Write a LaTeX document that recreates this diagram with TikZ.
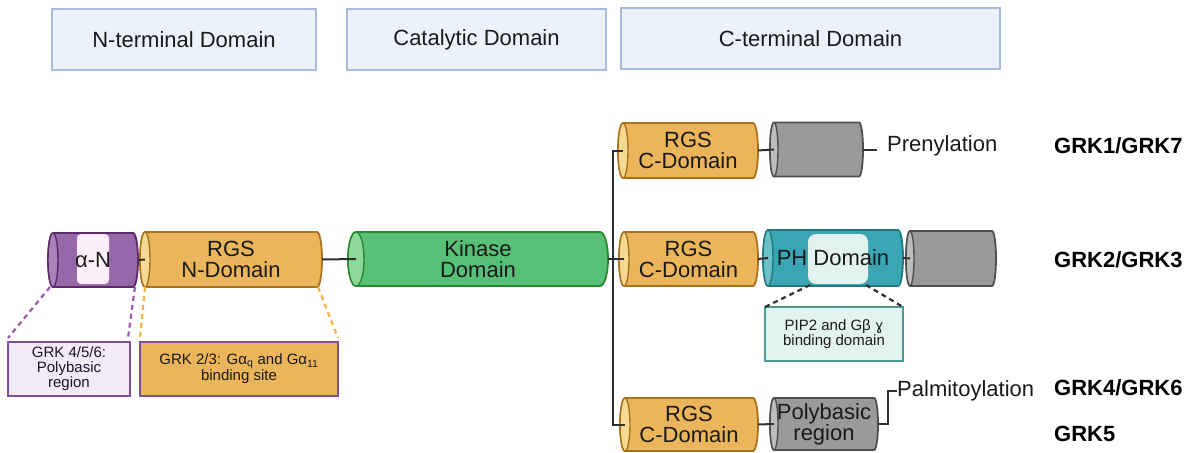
\documentclass[tikz,border=0pt]{standalone}
\usepackage{fontspec}
\setmainfont{Liberation Sans}
\newfontfamily\dejavu{DejaVu Sans}
\usetikzlibrary{calc,backgrounds}
\definecolor{txt}{HTML}{1A1A1A}
\definecolor{lineC}{HTML}{2E2E2E}
\definecolor{hdrF}{HTML}{EBF2FB}
\definecolor{hdrB}{HTML}{A7BCDF}
\definecolor{purF}{HTML}{9767A9}
\definecolor{purD}{HTML}{5C2A6B}
\definecolor{purC}{HTML}{A983B8}
\definecolor{pinkH}{HTML}{FCEEF6}
\definecolor{oraF}{HTML}{EBB55C}
\definecolor{oraD}{HTML}{A8731C}
\definecolor{oraC}{HTML}{F6DA93}
\definecolor{grnF}{HTML}{58BF77}
\definecolor{grnD}{HTML}{2A882E}
\definecolor{grnC}{HTML}{8FD89B}
\definecolor{tealF}{HTML}{3BA5B3}
\definecolor{tealD}{HTML}{1F7A80}
\definecolor{tealC}{HTML}{6CC0C8}
\definecolor{tealH}{HTML}{E1F2EF}
\definecolor{gryF}{HTML}{9A9A9A}
\definecolor{gryD}{HTML}{4F4F4F}
\definecolor{gryC}{HTML}{BDBDBD}
\definecolor{lavF}{HTML}{F1EAF9}
\definecolor{boxP}{HTML}{7D4F9E}
\definecolor{pipF}{HTML}{E3F3F0}
\definecolor{pipD}{HTML}{4D9A98}
\definecolor{dashP}{HTML}{9A5BA8}
\definecolor{dashO}{HTML}{F0B445}
\newcommand\cylshape[5]{%
  \path[fill=#2,draw=#3,line width=1.8pt] let \p1=(#1.north west), \p2=(#1.south east), \n1={(\y1-\y2)/2} in
    (\x1+#5pt,\y1) -- (\x2-#5pt,\y1) arc[start angle=90,end angle=-90,x radius=#5pt,y radius=\n1]
    -- (\x1+#5pt,\y2) arc[start angle=270,end angle=90,x radius=#5pt,y radius=\n1] -- cycle;
  \path[fill=#4,draw=#3,line width=1.4pt] let \p1=(#1.north west), \p2=(#1.south east), \n1={(\y1-\y2)/2} in
    (\x1+#5pt,{(\y1+\y2)/2}) ellipse[x radius=#5pt,y radius=\n1];
}
\tikzset{
  cyltext/.style={inner sep=0pt, outer sep=0pt, align=center, text=txt, font=\fontsize{22}{21}\selectfont},
  hdr/.style={draw=hdrB, fill=hdrF, line width=2pt, inner sep=0pt, outer sep=0pt, text=txt, font=\fontsize{22}{26}\selectfont},
  lbl/.style={inner sep=0pt, anchor=base west, text=black, font=\bfseries\fontsize{22}{26}\selectfont},
  side/.style={inner sep=0pt, text=txt, font=\fontsize{22}{26}\selectfont},
  sbox/.style={line width=1.8pt, inner sep=0pt, outer sep=0pt, align=center, text=txt, font=\fontsize{15}{15}\selectfont},
  conn/.style={draw=lineC, line width=2pt},
  dsh/.style={line width=2.2pt, dash pattern=on 5pt off 4pt}
}
\begin{document}
\begin{tikzpicture}[x=1pt,y=1pt]
\useasboundingbox (0,0) rectangle (1190,-452);
% headers
\node[hdr, minimum width=264, minimum height=61] (hN) at (184,-39.5) {N-terminal Domain};
\node[hdr, minimum width=259, minimum height=61] (hC) at (476.5,-39.5) {Catalytic Domain};
\node[hdr, minimum width=379, minimum height=60] (hT) at (810.5,-38.5) {C-terminal Domain};
% cylinders (text nodes)
\node[cyltext, minimum width=90, minimum height=54] (aN) at (93,-260) {α-N};
\node[cyltext, minimum width=182, minimum height=55] (rgsN) at (231,-259.5) {RGS\\N-Domain};
\node[cyltext, minimum width=260, minimum height=54] (kin) at (478,-259) {Kinase\\Domain};
\node[cyltext, minimum width=140, minimum height=55] (c1) at (688,-150.5) {RGS\\C-Domain};
\node[cyltext, minimum width=93, minimum height=54] (g1) at (816.5,-149.5) {};
\node[cyltext, minimum width=139, minimum height=54] (c2) at (688.5,-259) {RGS\\C-Domain};
\node[cyltext, minimum width=140, minimum height=56] (ph) at (833,-258) {PH Domain};
\node[cyltext, minimum width=90, minimum height=55] (g2) at (951,-258.5) {};
\node[cyltext, minimum width=138, minimum height=53] (c3) at (689,-424.5) {RGS\\C-Domain};
\node[cyltext, minimum width=108, minimum height=52] (pb) at (824,-424) {Polybasic\\region};
\begin{scope}[on background layer]
  \cylshape{aN}{purF}{purD}{purC}{5}
  \cylshape{rgsN}{oraF}{oraD}{oraC}{5}
  \cylshape{kin}{grnF}{grnD}{grnC}{8}
  \cylshape{c1}{oraF}{oraD}{oraC}{5}
  \cylshape{g1}{gryF}{gryD}{gryC}{4}
  \cylshape{c2}{oraF}{oraD}{oraC}{5}
  \cylshape{ph}{tealF}{tealD}{tealC}{5}
  \cylshape{g2}{gryF}{gryD}{gryC}{4}
  \cylshape{c3}{oraF}{oraD}{oraC}{5}
  \cylshape{pb}{gryF}{gryD}{gryC}{4}
  \fill[pinkH, rounded corners=4pt] ($(aN.north)+(-16,-1)$) rectangle ($(aN.south)+(16,3)$);
  \fill[tealH, rounded corners=8pt] ($(ph.north)+(-25,-4)$) rectangle ($(ph.south)+(35,2)$);
\end{scope}
% side labels
\node[side, anchor=west, inner xsep=10pt] (pren) at (877,-146) {Prenylation};
\node[side, anchor=west, inner xsep=0pt] (palm) at (897,-391) {Palmitoylation};
% GRK labels
\node[lbl] (k17) at (1054,-153) {GRK1/GRK7};
\node[lbl] (k23) at (1054,-267) {GRK2/GRK3};
\node[lbl] (k46) at (1054,-395) {GRK4/GRK6};
\node[lbl] (k5) at (1054,-441) {GRK5};
% boxes
\node[sbox, draw=boxP, fill=lavF, minimum width=122, minimum height=54] (b1) at (69,-369) {GRK 4/5/6:\\Polybasic\\region};
\node[sbox, draw=boxP, fill=oraF, minimum width=198, minimum height=54] (b2) at (239,-369) {GRK 2/3: Gα\textsubscript{q} and Gα\textsubscript{11}\\binding site};
\node[sbox, draw=pipD, fill=pipF, minimum width=138, minimum height=54] (pip) at (834,-334) {PIP2 and Gβ {\dejavu\fontsize{14}{15}\selectfont ɣ}\\binding domain};
% connectors
\coordinate (vt) at (613,-150.5);
\coordinate (vb) at (613,-424.5);
\draw[conn] (aN.east) -- ($(rgsN.west)+(5,0)$);
\draw[conn] (rgsN.east) -- ($(kin.west)+(8,0)$);
\draw[conn] (kin.east) -- ($(c2.west)+(5,0)$);
\draw[conn] ($(c1.west)+(5,0)$) -- (vt) -- (vb) -- ($(c3.west)+(5,0)$);
\draw[conn] (c1.east) -- ($(g1.west)+(4,0)$);
\draw[conn] (g1.east) -- (g1.east -| pren.west);
\draw[conn] (c2.east) -- ($(ph.west)+(5,0)$);
\draw[conn] (ph.east) -- ($(g2.west)+(4,0)$);
\draw[conn] (c3.east) -- ($(pb.west)+(4,0)$);
\draw[conn] (pb.east) -- ++(10,0) |- (palm.west);
% dashed
\draw[dsh, dashP] ($(aN.south west)+(2,0)$) -- ($(b1.north west)+(0,4)$);
\draw[dsh, dashP] ($(aN.south east)+(-3,0)$) -- ($(b1.north east)+(-2,4)$);
\draw[dsh, dashO] ($(rgsN.south west)+(5,0)$) -- ($(b2.north west)+(0,4)$);
\draw[dsh, dashO] ($(rgsN.south east)+(-4,0)$) -- ($(b2.north east)+(0,4)$);
\draw[dsh, lineC] ($(ph.south)+(-23,1)$) -- (pip.north west);
\draw[dsh, lineC] ($(ph.south)+(33,1)$) -- (pip.north east);
\end{tikzpicture}
\end{document}
